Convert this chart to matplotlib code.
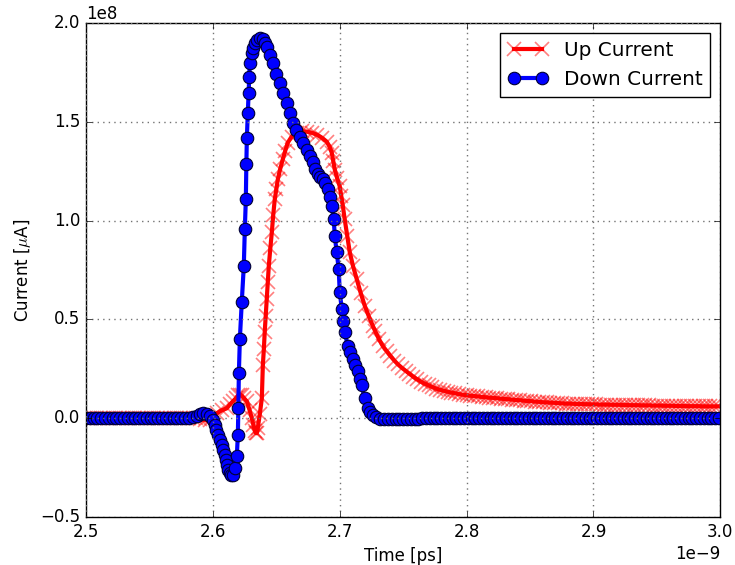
import matplotlib
matplotlib.use('Agg')
import matplotlib.pyplot as plt
import numpy as np

# time in ps, current in units of 1e8 uA
up_time = [2500, 2503, 2506, 2509, 2512, 2515, 2518, 2521, 2524, 2527,
           2530, 2533, 2536, 2539, 2542, 2545, 2548, 2551, 2554, 2557,
           2560, 2563, 2566, 2569, 2572, 2575, 2578, 2581, 2584, 2587,
           2590, 2593.5, 2597.6, 2600.5, 2603.1, 2607, 2611, 2613.5, 2615.7, 2618,
           2619.7, 2621.3, 2622.8, 2624.8, 2626.8, 2629, 2630.7, 2632, 2633.1, 2633.9,
           2634.6, 2635.4, 2637, 2638.6, 2639.4, 2640.2, 2640.9, 2641.7, 2642.5, 2643.3,
           2644.1, 2645.3, 2646.5, 2647.6, 2648.8, 2650, 2651.2, 2653, 2655.1, 2657.1,
           2659.1, 2662, 2666.1, 2670, 2674, 2678, 2681.9, 2686, 2689.8, 2692,
           2693.7, 2695, 2696.1, 2698, 2700, 2701.2, 2702.4, 2703.9, 2706, 2707.9,
           2710.5, 2713.4, 2716.5, 2719.7, 2723, 2726,
           2728, 2731, 2734, 2737, 2740, 2743, 2746, 2749, 2752, 2755,
           2758, 2761, 2764, 2767, 2770, 2773, 2776, 2779, 2782, 2785,
           2788, 2791, 2794, 2797, 2800, 2803, 2806, 2809, 2812, 2815,
           2818, 2821, 2824, 2827, 2830, 2833, 2836, 2839, 2842, 2845,
           2848, 2851, 2854, 2857, 2860, 2863, 2866, 2869, 2872, 2875,
           2878, 2881, 2884, 2887, 2890, 2893, 2896, 2899, 2902, 2905,
           2908, 2911, 2914, 2917, 2920, 2923, 2926, 2929, 2932, 2935,
           2938, 2941, 2944, 2947, 2950, 2953, 2956, 2959, 2962, 2965,
           2968, 2971, 2974, 2977, 2980, 2983, 2986, 2989, 2992, 2995,
           2998]
up_current = [0.0, 0.0, 0.0, 0.0, 0.0, 0.0, 0.0, 0.0, 0.0, 0.0,
              0.0, 0.0, 0.0, 0.0, 0.0, 0.0, 0.0, 0.0, 0.0, 0.0,
              0.0, 0.0, 0.0, 0.0, 0.0, 0.0, 0.0, 0.0, 0.0, 0.0,
              -0.005, -0.01, -0.01, 0.01, 0.025, 0.04, 0.05, 0.07, 0.085, 0.10,
              0.115, 0.12, 0.115, 0.10, 0.085, 0.04, 0.0, -0.035, -0.065, -0.075,
              -0.076, -0.05, 0.02, 0.10, 0.267, 0.35, 0.438, 0.52, 0.605, 0.69,
              0.771, 0.86, 0.942, 1.03, 1.108, 1.16, 1.209, 1.26, 1.31, 1.355,
              1.395, 1.425, 1.446, 1.452, 1.451, 1.445, 1.436, 1.42, 1.40, 1.375,
              1.345, 1.30, 1.259, 1.215, 1.174, 1.125, 1.078, 1.008, 0.92, 0.841,
              0.77, 0.705, 0.635, 0.57, 0.515, 0.469,
              0.44, 0.40, 0.365, 0.34, 0.315, 0.292, 0.272, 0.255, 0.24, 0.225,
              0.21, 0.197, 0.185, 0.175, 0.166, 0.158, 0.15, 0.144, 0.139, 0.134,
              0.13, 0.126, 0.122, 0.119, 0.116, 0.114, 0.112, 0.11, 0.108, 0.106,
              0.104, 0.103, 0.101, 0.099, 0.097, 0.096, 0.094, 0.092, 0.091, 0.089,
              0.087, 0.086, 0.084, 0.083, 0.081, 0.080, 0.079, 0.078, 0.077, 0.075,
              0.074, 0.074, 0.073, 0.072, 0.072, 0.071, 0.071, 0.070, 0.070, 0.069,
              0.069, 0.069, 0.068, 0.068, 0.068, 0.067, 0.067, 0.066, 0.066, 0.066,
              0.065, 0.065, 0.065, 0.064, 0.064, 0.064, 0.063, 0.063, 0.063, 0.062,
              0.062, 0.062, 0.061, 0.061, 0.061, 0.061, 0.060, 0.060, 0.060, 0.060,
              0.060]

down_time = [2500, 2503, 2506, 2509, 2512, 2515, 2518, 2521, 2524, 2527,
             2530, 2533, 2536, 2539, 2542, 2545, 2548, 2551, 2554, 2557,
             2560, 2563, 2566, 2569, 2572, 2575, 2578, 2581, 2584,
             2587.4, 2590, 2592.1, 2595.3, 2597.6, 2600, 2601.6, 2602.8, 2603.9, 2605.5,
             2607.1, 2608.3, 2609.4, 2610.2, 2611, 2612.2, 2613.4, 2614.5, 2615.7, 2617.3,
             2618.9, 2619.7, 2620.1, 2620.5, 2621.3, 2622.8, 2624.4, 2625.2, 2626, 2626.4,
             2626.8, 2627.6, 2628.3, 2628.7, 2629.1, 2630.7, 2632, 2633.1, 2635, 2637,
             2639.4, 2641, 2642.5, 2645, 2647.2, 2650, 2652.8, 2655.5, 2658.3, 2661,
             2663, 2665.8, 2668.5, 2671, 2674, 2676.5, 2678.7, 2680.7, 2682.7, 2684.7,
             2686.6, 2688.6, 2690.6, 2692, 2693.7, 2695.3, 2696.1, 2697.6, 2699.2, 2700,
             2701.6, 2702.4, 2703.9, 2706.3, 2708.2, 2710.2, 2712.2, 2714.2, 2715.7, 2717.3,
             2719.7, 2722, 2724, 2726, 2728.5, 2731.5,
             2735, 2738, 2741, 2744, 2747, 2750, 2753, 2756, 2759, 2762,
             2765, 2768, 2771, 2774, 2777, 2780, 2783, 2786, 2789, 2792,
             2795, 2798, 2801, 2804, 2807, 2810, 2813, 2816, 2819, 2822,
             2825, 2828, 2831, 2834, 2837, 2840, 2843, 2846, 2849, 2852,
             2855, 2858, 2861, 2864, 2867, 2870, 2873, 2876, 2879, 2882,
             2885, 2888, 2891, 2894, 2897, 2900, 2903, 2906, 2909, 2912,
             2915, 2918, 2921, 2924, 2927, 2930, 2933, 2936, 2939, 2942,
             2945, 2948, 2951, 2954, 2957, 2960, 2963, 2966, 2969, 2972,
             2975, 2978, 2981, 2984, 2987, 2990, 2993, 2996, 2999]
down_current = [0.0, 0.0, 0.0, 0.0, 0.0, 0.0, 0.0, 0.0, 0.0, 0.0,
                0.0, 0.0, 0.0, 0.0, 0.0, 0.0, 0.0, 0.0, 0.0, 0.0,
                0.0, 0.0, 0.0, 0.0, 0.0, 0.0, 0.0, 0.0, 0.005,
                0.01, 0.02, 0.025, 0.02, 0.01, -0.01, -0.035, -0.06, -0.086, -0.11,
                -0.136, -0.16, -0.186, -0.21, -0.237, -0.26, -0.277, -0.287, -0.29, -0.252,
                -0.19, -0.086, 0.05, 0.227, 0.403, 0.589, 0.771, 0.957, 1.108, 1.285,
                1.42, 1.547, 1.647, 1.728, 1.798, 1.849, 1.875, 1.899, 1.915, 1.924,
                1.92, 1.90, 1.879, 1.84, 1.798, 1.745, 1.697, 1.645, 1.597, 1.545,
                1.496, 1.46, 1.426, 1.395, 1.36, 1.325, 1.295, 1.26, 1.234, 1.22,
                1.209, 1.19, 1.159, 1.12, 1.073, 1.008, 0.922, 0.841, 0.756, 0.64,
                0.554, 0.494, 0.438, 0.368, 0.335, 0.302, 0.27, 0.237, 0.20, 0.166,
                0.10, 0.05, 0.03, 0.015, 0.005, -0.005,
                -0.005, -0.005, -0.005, -0.005, -0.005, -0.005, -0.005, -0.005, -0.005, -0.005,
                0.0, 0.0, 0.0, 0.0, 0.0, 0.0, 0.0, 0.0, 0.0, 0.0,
                0.0, 0.0, 0.0, 0.0, 0.0, 0.0, 0.0, 0.0, 0.0, 0.0,
                0.0, 0.0, 0.0, 0.0, 0.0, 0.0, 0.0, 0.0, 0.0, 0.0,
                0.0, 0.0, 0.0, 0.0, 0.0, 0.0, 0.0, 0.0, 0.0, 0.0,
                0.0, 0.0, 0.0, 0.0, 0.0, 0.0, 0.0, 0.0, 0.0, 0.0,
                0.0, 0.0, 0.0, 0.0, 0.0, 0.0, 0.0, 0.0, 0.0, 0.0,
                0.0, 0.0, 0.0, 0.0, 0.0, 0.0, 0.0, 0.0, 0.0, 0.0,
                0.0, 0.0, 0.0, 0.0, 0.0, 0.0, 0.0, 0.0, 0.0]

plt.style.use('classic')

fig = plt.figure(figsize=(7.35, 5.65), dpi=100, facecolor='white')
ax = fig.add_axes([0.117, 0.085, 0.863, 0.874])

t_up = np.array(up_time) * 1e-12
t_down = np.array(down_time) * 1e-12

ax.plot(t_up, np.array(up_current) * 1e8, color='red', lw=3,
        marker='x', markersize=10, mew=1.2, mec=(1, 0, 0, 0.5), label='Up Current')
ax.plot(t_down, np.array(down_current) * 1e8, color='blue', lw=3,
        marker='o', markersize=9, mfc='blue', mec='#000033', mew=0.8,
        label='Down Current')

ax.set_xlim(2.5e-9, 3.0e-9)
ax.set_ylim(-0.5e8, 2.0e8)
ax.set_xticks([2.5e-9, 2.6e-9, 2.7e-9, 2.8e-9, 2.9e-9, 3.0e-9])
ax.set_yticks([-0.5e8, 0.0, 0.5e8, 1.0e8, 1.5e8, 2.0e8])
ax.grid(True, color='0.45', linestyle=':', lw=1)

ax.set_xlabel('Time [ps]')
ax.set_ylabel(r'Current [$\mu$A]')

ax.legend(loc='upper right', numpoints=2)

fig.savefig('out.png', dpi=100, facecolor='white')
